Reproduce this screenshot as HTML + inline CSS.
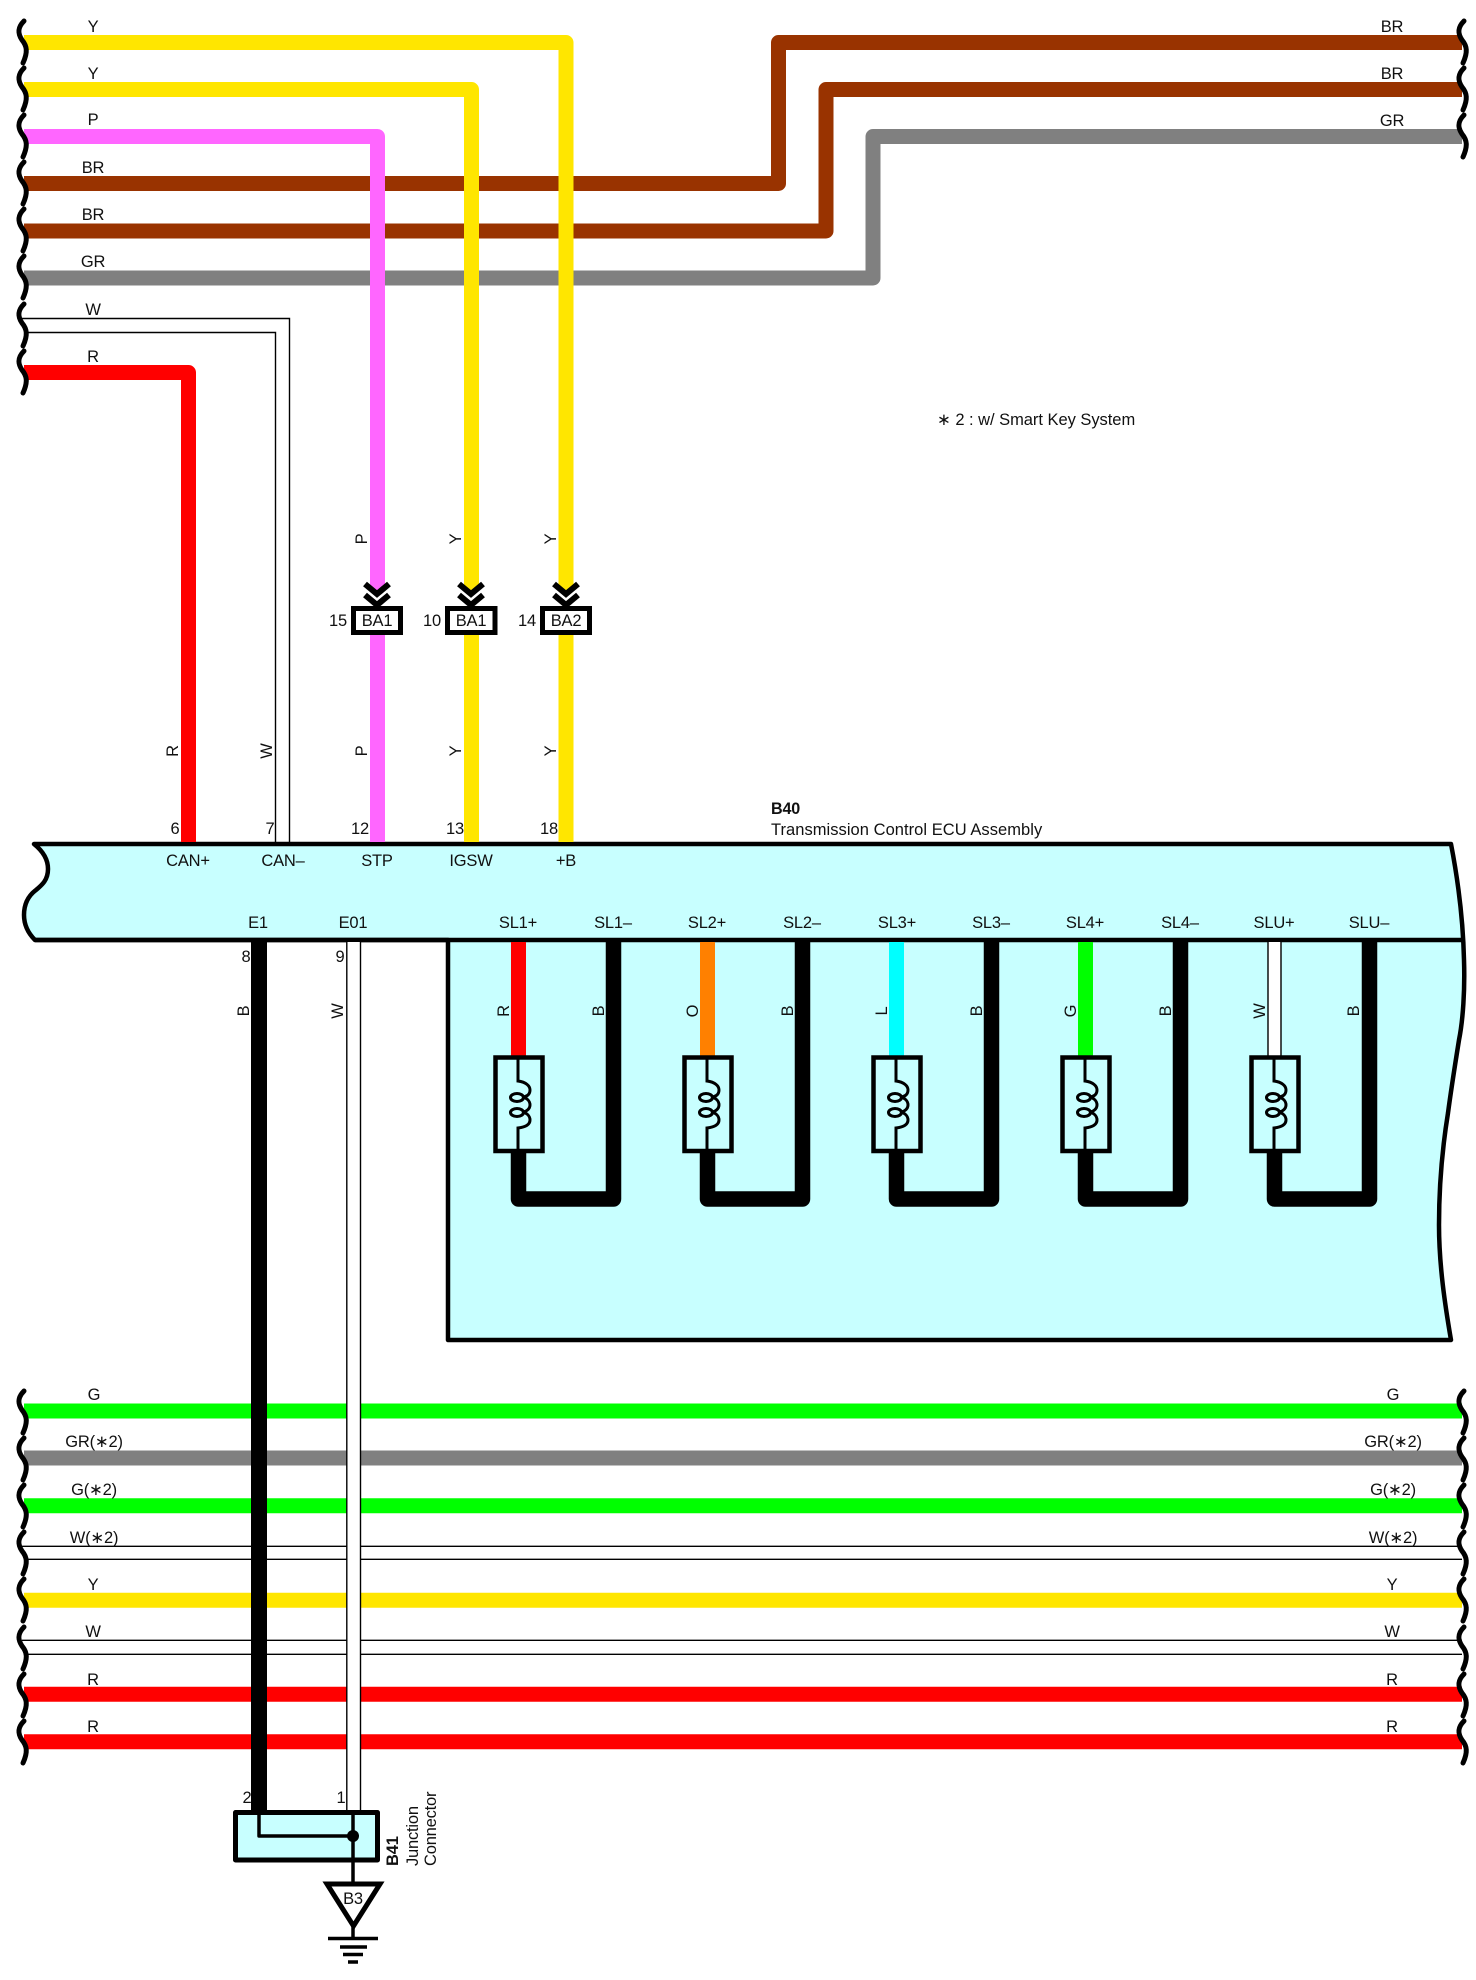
<!DOCTYPE html>
<html><head><meta charset="utf-8"><style>
html,body{margin:0;padding:0;background:#fff}
svg{display:block}
text{font-family:"Liberation Sans",Arial,sans-serif;font-size:16.5px;fill:#111;letter-spacing:-.2px}
.m{text-anchor:middle}
.w{fill:none;stroke-linejoin:round}
</style></head><body>
<svg width="1476" height="1980" viewBox="0 0 1476 1980" xmlns="http://www.w3.org/2000/svg">
<defs>
<path id="sq" d="M24 21C17 28 18 34 22 40C27 46 28 52 23 63" fill="none" stroke="#000" stroke-width="5" stroke-linecap="round"/>
<g id="coil">
<path d="M613.5 939V1199H518.5V1150" fill="none" stroke="#000" stroke-width="15.5" stroke-linejoin="round"/>
<rect x="495.5" y="1057.5" width="47" height="93.5" fill="#c8ffff" stroke="#000" stroke-width="4.5"/>
<path d="M518 1057V1081C526 1082 530 1086 530 1090C530 1095 526 1097 522 1097M522 1097C527 1098 530 1101 530 1105C530 1109 526 1112 522 1112M522 1112C527 1113 530 1116 530 1120C530 1124 526 1127 518 1128V1151" fill="none" stroke="#000" stroke-width="3"/>
<ellipse cx="517" cy="1097.5" rx="6.5" ry="4" fill="none" stroke="#000" stroke-width="3"/>
<ellipse cx="517" cy="1112.5" rx="6.5" ry="4" fill="none" stroke="#000" stroke-width="3"/>
</g>
<g id="chev"><path d="M-12 584L0 594L12 584M-12 595L0 605L12 595" fill="none" stroke="#000" stroke-width="6"/></g>
</defs>

<!-- ECU body -->
<path d="M34 844H1451C1457 875 1463 915 1464 960C1465 990 1463 1020 1459 1040C1455 1065 1451 1090 1448 1113C1442 1150 1439 1185 1439 1225C1439 1265 1445 1305 1451 1340H448V940H35C28 933 24 925 24 915C24 904 28 896 36 890C42 885 48 880 48 869C48 860 44 852 34 844Z" fill="#c8ffff" stroke="#000" stroke-width="4.5" stroke-linejoin="round"/>
<path d="M35 940H1464" stroke="#000" stroke-width="4.5"/>

<!-- horizontal wires that run under -->
<g class="w" stroke-width="15">
<path d="M24 183.5H778.5V42.5H1462" stroke="#993300"/>
<path d="M24 231H826V89.5H1462" stroke="#993300"/>
<path d="M24 278H873V136.5H1462" stroke="#808080"/>
<path d="M24 1411H1462" stroke="#00ff00"/>
<path d="M24 1458H1462" stroke="#808080"/>
<path d="M24 1505.7H1462" stroke="#00ff00"/>
<path d="M24 1600.3H1462" stroke="#ffe600"/>
<path d="M24 1694.3H1462" stroke="#ff0000"/>
<path d="M24 1741.7H1462" stroke="#ff0000"/>
</g>
<g stroke="#000" stroke-width="1.4" fill="none">
<path d="M22 1546.3H1462M28 1559.3H1462M22 1640.3H1462M28 1654.3H1462"/>
<path d="M22 318.5H289.5V842M28 332.5H275.5V842"/>
</g>

<!-- vertical wires -->
<g class="w" stroke-width="15">
<path d="M24 42.5H566V590" stroke="#ffe600"/>
<path d="M24 89.5H471.5V590" stroke="#ffe600"/>
<path d="M24 136.5H377.5V590" stroke="#ff66ff"/>
<path d="M24 372.5H188.5V842" stroke="#ff0000"/>
<path d="M566 634V842M471.5 634V842" stroke="#ffe600"/>
<path d="M377.5 634V842" stroke="#ff66ff"/>
</g>

<!-- E1 / E01 -->
<rect x="347" y="942" width="14" height="870" fill="#fff"/>
<path d="M346.8 942V1812M360.5 942V1812" stroke="#000" stroke-width="1.4"/>
<path d="M259 942V1812" stroke="#000" stroke-width="16"/>

<!-- squiggles -->
<use href="#sq"/><use href="#sq" y="47"/><use href="#sq" y="94"/><use href="#sq" y="141"/><use href="#sq" y="188"/><use href="#sq" y="235"/><use href="#sq" y="283"/><use href="#sq" y="330"/>
<use href="#sq" x="1440"/><use href="#sq" x="1440" y="47"/><use href="#sq" x="1440" y="94"/>
<use href="#sq" y="1370"/><use href="#sq" y="1417"/><use href="#sq" y="1464"/><use href="#sq" y="1511"/><use href="#sq" y="1558"/><use href="#sq" y="1606"/><use href="#sq" y="1653"/><use href="#sq" y="1700"/>
<use href="#sq" x="1440" y="1370"/><use href="#sq" x="1440" y="1417"/><use href="#sq" x="1440" y="1464"/><use href="#sq" x="1440" y="1511"/><use href="#sq" x="1440" y="1558"/><use href="#sq" x="1440" y="1606"/><use href="#sq" x="1440" y="1653"/><use href="#sq" x="1440" y="1700"/>

<!-- chevrons and connectors -->
<use href="#chev" x="377"/><use href="#chev" x="471"/><use href="#chev" x="566"/>
<g fill="#fff" stroke="#000" stroke-width="5">
<rect x="353.5" y="608.5" width="47" height="24"/>
<rect x="447.5" y="608.5" width="47.5" height="24"/>
<rect x="542.5" y="608.5" width="47" height="24"/>
</g>

<!-- solenoid wires -->
<g stroke-width="15" fill="none">
<path d="M518.5 942V1056" stroke="#ff0000"/>
<path d="M707.5 942V1056" stroke="#ff8000"/>
<path d="M896.5 942V1056" stroke="#00ffff"/>
<path d="M1085.5 942V1056" stroke="#00ff00"/>
</g>
<rect x="1268" y="942" width="13" height="114" fill="#fff"/>
<path d="M1268 942V1056M1281 942V1056" stroke="#000" stroke-width="1.4"/>
<use href="#coil"/><use href="#coil" x="189"/><use href="#coil" x="378"/><use href="#coil" x="567"/><use href="#coil" x="756"/>

<!-- junction -->
<rect x="235.5" y="1812.5" width="142" height="47.5" fill="#c8ffff" stroke="#000" stroke-width="5" stroke-linejoin="round"/>
<path d="M259 1812V1836H353" fill="none" stroke="#000" stroke-width="3.5" stroke-linejoin="round"/>
<path d="M353 1812V1884" stroke="#000" stroke-width="3.5"/>
<circle cx="353" cy="1836" r="6" fill="#000"/>
<path d="M327 1884H380L353.500 1926Z" fill="#fff" stroke="#000" stroke-width="5"/>
<path d="M353 1925V1938M328 1938.500H378M340 1947H367M343 1954.500H363M348 1962H358" stroke="#000" stroke-width="3.500" fill="none"/>

<!-- labels -->
<g class="m">
<text x="93" y="32">Y</text><text x="93" y="79">Y</text><text x="93" y="125">P</text>
<text x="93" y="173">BR</text><text x="93" y="220">BR</text><text x="93" y="267">GR</text>
<text x="93" y="315">W</text><text x="93" y="362">R</text>
<text x="1392" y="32">BR</text><text x="1392" y="79">BR</text><text x="1392" y="126">GR</text>
<text x="94" y="1400">G</text><text x="94" y="1447">GR(∗2)</text><text x="94" y="1495">G(∗2)</text><text x="94" y="1543">W(∗2)</text>
<text x="93" y="1590">Y</text><text x="93" y="1637">W</text><text x="93" y="1685">R</text><text x="93" y="1732">R</text>
<text x="1393" y="1400">G</text><text x="1393" y="1447">GR(∗2)</text><text x="1393" y="1495">G(∗2)</text><text x="1393" y="1543">W(∗2)</text>
<text x="1392" y="1590">Y</text><text x="1392" y="1637">W</text><text x="1392" y="1685">R</text><text x="1392" y="1732">R</text>
<!-- pins -->
<text x="175" y="834">6</text><text x="270" y="834">7</text><text x="360" y="834">12</text><text x="455" y="834">13</text><text x="549" y="834">18</text>
<text x="188" y="866">CAN+</text><text x="283" y="866">CAN–</text><text x="377" y="866">STP</text><text x="471" y="866">IGSW</text><text x="566" y="866">+B</text>
<text x="258" y="928">E1</text><text x="353" y="928">E01</text>
<text x="518" y="928">SL1+</text><text x="613" y="928">SL1–</text><text x="707" y="928">SL2+</text><text x="802" y="928">SL2–</text>
<text x="897" y="928">SL3+</text><text x="991" y="928">SL3–</text><text x="1085" y="928">SL4+</text><text x="1180" y="928">SL4–</text>
<text x="1274" y="928">SLU+</text><text x="1369" y="928">SLU–</text>
<text x="246" y="962">8</text><text x="340" y="962">9</text>
<text x="377" y="626">BA1</text><text x="471" y="626">BA1</text><text x="566" y="626">BA2</text>
<text x="338" y="626">15</text><text x="432" y="626">10</text><text x="527" y="626">14</text>
<text x="247" y="1803">2</text><text x="341" y="1803">1</text>
<text x="353" y="1904">B3</text>
<!-- rotated -->
<text transform="translate(367 539) rotate(-90)">P</text>
<text transform="translate(461 539) rotate(-90)">Y</text>
<text transform="translate(556 539) rotate(-90)">Y</text>
<text transform="translate(178 751) rotate(-90)">R</text>
<text transform="translate(272 751) rotate(-90)">W</text>
<text transform="translate(367 751) rotate(-90)">P</text>
<text transform="translate(461 751) rotate(-90)">Y</text>
<text transform="translate(556 751) rotate(-90)">Y</text>
<text transform="translate(249 1011) rotate(-90)">B</text>
<text transform="translate(343 1011) rotate(-90)">W</text>
<text transform="translate(509 1011) rotate(-90)">R</text>
<text transform="translate(604 1011) rotate(-90)">B</text>
<text transform="translate(698 1011) rotate(-90)">O</text>
<text transform="translate(793 1011) rotate(-90)">B</text>
<text transform="translate(887 1011) rotate(-90)">L</text>
<text transform="translate(982 1011) rotate(-90)">B</text>
<text transform="translate(1076 1011) rotate(-90)">G</text>
<text transform="translate(1171 1011) rotate(-90)">B</text>
<text transform="translate(1265 1011) rotate(-90)">W</text>
<text transform="translate(1359 1011) rotate(-90)">B</text>
</g>
<text x="937" y="425" textLength="198" lengthAdjust="spacing">∗ 2 : w/ Smart Key System</text>
<text x="771" y="814" textLength="29" lengthAdjust="spacingAndGlyphs" style="font-weight:bold">B40</text>
<text x="771" y="835" textLength="271" lengthAdjust="spacing">Transmission Control ECU Assembly</text>
<text transform="translate(398 1866) rotate(-90)" style="font-weight:bold">B41</text>
<text transform="translate(418 1866) rotate(-90)">Junction</text>
<text transform="translate(436 1866) rotate(-90)">Connector</text>
</svg>
</body></html>
